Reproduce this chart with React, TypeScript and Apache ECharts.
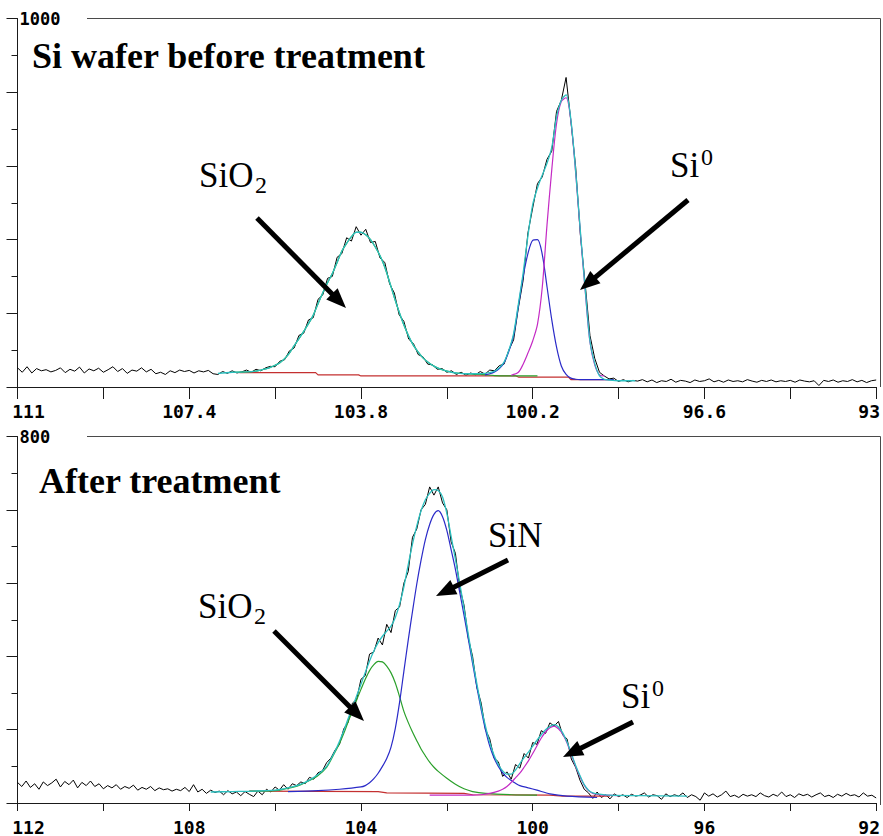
import React, { useEffect, useRef } from 'react';
import * as echarts from 'echarts';

// ---------- DATA ----------
// Top panel: raw spectrum, binding energy from 111.0 down to 93.0 eV, 0.1 eV step
const TOP_RAW_START = 111.0;
const TOP_RAW_STEP = 0.1;
const topRaw = [
  52, 40, 55, 38, 50, 44, 47, 41, 45, 52,
  39, 48, 43, 54, 38, 49, 44, 51, 40, 47,
  55, 42, 50, 37, 46, 43, 52, 41, 48, 36,
  40, 34, 44, 39, 46, 42, 45, 38, 44, 41,
  45, 36, 34, 42, 37, 44, 38, 41, 46, 40,
  48, 44, 52, 56, 55, 70, 74, 98, 106, 140,
  146, 182, 188, 238, 250, 295, 300, 352, 362, 405,
  396, 435, 412, 428, 392, 395, 350, 338, 280, 255,
  196, 178, 130, 118, 88, 82, 62, 60, 48, 50,
  40, 44, 34, 40, 32, 38, 33, 42, 35, 46,
  44, 58, 62, 100, 128, 215, 290, 418, 486, 552,
  570, 618, 640, 748, 778, 840, 722, 598, 412, 280,
  140, 78, 40, 30, 22, 24, 15, 20, 14, 18,
  16, 20, 14, 19, 12, 17, 15, 21, 13, 18,
  16, 12, 19, 15, 17, 22, 14, 18, 13, 19,
  15, 17, 14, 20, 16, 13, 18, 15, 19, 14,
  17, 15, 18, 13, 19, 16, 14, 17, 4, 18,
  15, 19, 13, 17, 15, 20, 14, 18, 12, 17,
  19,
];

// Top panel fitted curves [eV, counts]
const topBackground = [
  [106.35, 39], [104.75, 39], [104.7, 33], [103.85, 33], [103.8, 30], [100.55, 30],
  [100.5, 27], [99.45, 27], [99.4, 20], [98.5, 20],
];
const topSiO2 = [
  [106.5, 40], [106.2, 41], [106.0, 43], [105.9, 46], [105.8, 49], [105.7, 53], [105.6, 59],
  [105.5, 66], [105.4, 77], [105.3, 92], [105.2, 112], [105.1, 131], [105.0, 151], [104.9, 172],
  [104.8, 195], [104.7, 226], [104.6, 256], [104.5, 283], [104.4, 308], [104.3, 338], [104.2, 369],
  [104.1, 390], [104.0, 408], [103.9, 420], [103.8, 420], [103.7, 413], [103.6, 400], [103.5, 380],
  [103.4, 356], [103.3, 325], [103.2, 285], [103.1, 243], [103.0, 204], [102.9, 168], [102.8, 138],
  [102.7, 113], [102.6, 95], [102.5, 79], [102.4, 68], [102.3, 59], [102.2, 52], [102.1, 47],
  [102.0, 43], [101.9, 40], [101.8, 38], [101.6, 36], [101.3, 34], [101.0, 31], [100.8, 30], [100.1, 30],
];
const topSubOxide = [
  [101.2, 33], [101.1, 36], [101.0, 41], [100.9, 50], [100.8, 66], [100.7, 97], [100.6, 140],
  [100.5, 220], [100.4, 300], [100.3, 362], [100.2, 398], [100.1, 400], [100.0, 360], [99.9, 272],
  [99.8, 182], [99.7, 108], [99.6, 57], [99.5, 34], [99.4, 24], [99.3, 21], [99.2, 20], [98.5, 20],
];
const topSi0 = [
  [100.65, 32], [100.5, 40], [100.4, 62], [100.3, 92], [100.2, 125], [100.1, 170], [100.0, 270],
  [99.9, 440], [99.8, 590], [99.7, 715], [99.6, 775], [99.5, 785], [99.4, 722], [99.3, 582],
  [99.2, 417], [99.1, 262], [99.0, 122], [98.9, 60], [98.8, 33], [98.7, 30],
];
const topEnvelope = [
  [106.8, 37], [106.5, 40], [106.2, 41], [106.0, 43], [105.9, 46], [105.8, 49], [105.7, 53],
  [105.6, 59], [105.5, 66], [105.4, 77], [105.3, 92], [105.2, 112], [105.1, 131], [105.0, 151],
  [104.9, 172], [104.8, 195], [104.7, 226], [104.6, 256], [104.5, 283], [104.4, 308], [104.3, 338],
  [104.2, 369], [104.1, 390], [104.0, 408], [103.9, 420], [103.8, 420], [103.7, 413], [103.6, 400],
  [103.5, 380], [103.4, 356], [103.3, 325], [103.2, 285], [103.1, 243], [103.0, 204], [102.9, 168],
  [102.8, 138], [102.7, 113], [102.6, 95], [102.5, 79], [102.4, 68], [102.3, 59], [102.2, 52],
  [102.1, 47], [102.0, 43], [101.9, 40], [101.8, 38], [101.6, 36], [101.3, 36], [101.2, 37],
  [101.1, 39], [101.0, 43], [100.9, 52], [100.8, 68], [100.7, 100], [100.6, 145], [100.5, 225],
  [100.4, 310], [100.3, 410], [100.2, 495], [100.1, 540], [100.0, 575], [99.9, 607], [99.8, 650],
  [99.7, 733], [99.6, 778], [99.5, 793], [99.4, 726], [99.3, 587], [99.2, 422], [99.1, 267],
  [99.0, 125], [98.9, 64], [98.8, 30], [98.7, 21], [98.6, 19], [98.4, 17], [98.05, 17],
];

// Bottom panel: raw spectrum from 112.0 down to 92.0 eV, 0.1 eV step
const BOTTOM_RAW_START = 112.0;
const BOTTOM_RAW_STEP = 0.1;
const bottomRaw = [
  45, 36, 48, 34, 42, 30, 46, 38, 44, 52,
  35, 47, 40, 50, 33, 45, 38, 48, 36, 42,
  31, 38, 33, 40, 30, 36, 32, 39, 28, 34,
  30, 36, 27, 33, 29, 31, 26, 30, 27, 34,
  25, 40, 24, 30, 21, 28, 23, 26, 18, 27,
  20, 24, 16, 25, 19, 14, 26, 18, 30, 24,
  35, 28, 40, 30, 42, 38, 46, 42, 56, 52,
  66, 70, 88, 98, 116, 128, 162, 176, 218, 226,
  270, 278, 325, 330, 360, 345, 390, 372, 420, 428,
  480, 505, 580, 598, 640, 652, 690, 672, 690, 655,
  640, 570, 545, 470, 432, 360, 320, 252, 218, 160,
  140, 98, 90, 58, 68, 52, 84, 76, 108, 98,
  132, 128, 158, 152, 175, 168, 178, 148, 140, 96,
  78, 50, 30, 22, 10, 24, 12, 18, 9, 20,
  14, 18, 12, 19, 15, 17, 22, 13, 18, 16,
  8, 20, 14, 18, 15, 22, 12, 18, 14, 6,
  22, 15, 20, 13, 18, 26, 14, 17, 12, 19,
  15, 18, 14, 22, 16, 13, 19, 15, 24, 14,
  18, 12, 20, 16, 19, 13, 18, 22, 14, 17,
  12, 19, 15, 21, 16, 18, 13, 22, 15, 17,
  11,
];

const bottomBackground = [
  [106.6, 26], [105.0, 25.5], [103.6, 25], [103.4, 22], [101.6, 21], [101.4, 18],
  [99.6, 17], [99.3, 15], [98.2, 15],
];
const bottomSiO2 = [
  [106.6, 26], [106.0, 27], [105.8, 30], [105.6, 34], [105.4, 40], [105.2, 49], [105.0, 60],
  [104.8, 78], [104.7, 94], [104.6, 112], [104.5, 130], [104.4, 152], [104.3, 177], [104.2, 200],
  [104.1, 225], [104.0, 248], [103.9, 270], [103.8, 289], [103.7, 302], [103.6, 309], [103.5, 308],
  [103.4, 299], [103.3, 284], [103.2, 262], [103.1, 232], [103.0, 200], [102.9, 176], [102.8, 155],
  [102.7, 136], [102.6, 118], [102.5, 103], [102.4, 89], [102.3, 78], [102.2, 69], [102.0, 54],
  [101.8, 41], [101.6, 31], [101.4, 25], [101.1, 21], [100.5, 18], [99.9, 17],
];
const bottomSiN = [
  [105.7, 25], [105.0, 27], [104.5, 30], [104.0, 35], [103.9, 38], [103.8, 44], [103.7, 53],
  [103.6, 65], [103.5, 80], [103.4, 97], [103.3, 122], [103.2, 163], [103.1, 220], [103.0, 288],
  [102.9, 355], [102.8, 418], [102.7, 478], [102.6, 530], [102.5, 575], [102.4, 608], [102.3, 630],
  [102.2, 638], [102.1, 625], [102.0, 595], [101.9, 553], [101.8, 510], [101.7, 460], [101.6, 410],
  [101.5, 358], [101.4, 305], [101.3, 253], [101.2, 204], [101.1, 160], [101.0, 124], [100.9, 98],
  [100.8, 80], [100.7, 66], [100.6, 56], [100.5, 49], [100.4, 43], [100.3, 38], [100.1, 33],
  [99.9, 28], [99.6, 20], [99.2, 15], [98.5, 12],
];
const bottomSi0 = [
  [102.4, 17], [101.4, 17], [101.2, 18], [101.0, 21], [100.8, 26], [100.7, 30], [100.6, 36],
  [100.5, 45], [100.4, 55], [100.3, 65], [100.2, 78], [100.1, 92], [100.0, 108], [99.9, 125],
  [99.8, 142], [99.7, 155], [99.6, 164], [99.5, 168], [99.4, 162], [99.3, 150], [99.2, 131],
  [99.1, 106], [99.0, 80], [98.9, 58], [98.8, 39], [98.7, 27], [98.6, 21], [98.5, 19],
  [98.3, 17], [98.0, 16],
];
const bottomEnvelope = [
  [107.5, 24], [107.0, 25], [106.5, 26], [106.0, 28], [105.8, 31], [105.6, 35], [105.4, 41],
  [105.2, 50], [105.0, 62], [104.8, 80], [104.7, 96], [104.6, 114], [104.5, 135], [104.4, 158],
  [104.3, 184], [104.2, 208], [104.1, 234], [104.0, 259], [103.9, 285], [103.8, 310], [103.7, 332],
  [103.6, 350], [103.5, 364], [103.4, 375], [103.3, 386], [103.2, 405], [103.1, 434], [103.0, 472],
  [102.9, 520], [102.8, 565], [102.7, 605], [102.6, 638], [102.5, 662], [102.4, 676], [102.3, 684],
  [102.2, 682], [102.1, 668], [102.0, 632], [101.9, 582], [101.8, 532], [101.7, 480], [101.6, 425],
  [101.5, 368], [101.4, 312], [101.3, 260], [101.2, 210], [101.1, 168], [101.0, 132], [100.9, 104],
  [100.8, 84], [100.7, 70], [100.6, 63], [100.5, 63], [100.4, 72], [100.3, 86], [100.2, 99],
  [100.1, 111], [100.0, 124], [99.9, 137], [99.8, 149], [99.7, 160], [99.6, 167], [99.5, 171],
  [99.4, 166], [99.3, 153], [99.2, 133], [99.1, 108], [99.0, 82], [98.9, 60], [98.8, 40],
  [98.7, 28], [98.6, 22], [98.5, 20], [98.2, 17], [97.5, 16], [96.4, 15],
];

// Axis settings
const topXRange = [93, 111];
const topXInterval = 3.6;
const topYMax = 1000;
const topYInterval = 200;
const bottomXRange = [92, 112];
const bottomXInterval = 4;
const bottomYMax = 800;
const bottomYInterval = 160;

// ---------- STYLE ----------
const MONO = '"DejaVu Sans Mono", monospace';
const SERIF = '"Liberation Serif", "Times New Roman", serif';
const AXIS_COLOR = '#1a1a1a';
const BORDER_COLOR = '#4a4a4a';
const C_RED = '#c43030';
const C_GREEN = '#2aa02a';
const C_BLUE = '#2a2ac8';
const C_MAGENTA = '#c42ac4';
const C_CYAN = '#2cc0c0';

const labelText = { fontFamily: MONO, fontWeight: 'bold' as const, fontSize: 18, color: '#000' };

function rawPairs(values: number[], start: number, step: number) {
  return values.map((v, i) => [Math.round((start - i * step) * 10) / 10, v]);
}

function lineSeries(data: number[][], color: string, idx: number, width: number, smooth: number | boolean) {
  return {
    type: 'line',
    xAxisIndex: idx,
    yAxisIndex: idx,
    data,
    showSymbol: false,
    symbol: 'none',
    smooth,
    silent: true,
    lineStyle: { color, width },
    itemStyle: { color },
  };
}

function xAxisDef(idx: number, range: number[], interval: number, tickLen: number) {
  const lo = range[0];
  const hi = range[1];
  return {
    type: 'value',
    gridIndex: idx,
    min: lo,
    max: hi,
    interval,
    inverse: true,
    axisLine: { show: true, onZero: false, lineStyle: { color: AXIS_COLOR, width: 1 } },
    axisTick: { show: true, length: tickLen, lineStyle: { color: AXIS_COLOR, width: 1 } },
    minorTick: { show: true, splitNumber: 2, length: tickLen, lineStyle: { color: AXIS_COLOR, width: 1 } },
    splitLine: { show: false },
    minorSplitLine: { show: false },
    axisLabel: {
      ...labelText,
      margin: 15,
      formatter: (v: number) => {
        const r = Math.round(v * 10) / 10;
        if (Math.abs(r - hi) < 1e-6) return '{first|' + r + '}';
        if (Math.abs(r - lo) < 1e-6) return '{last|' + r + '}';
        return String(r);
      },
      rich: {
        first: { ...labelText, padding: [0, 0, 0, 22] },
        last: { ...labelText, padding: [0, 14, 0, 0] },
      },
    },
  };
}

function yAxisDef(idx: number, max: number, interval: number) {
  return {
    type: 'value',
    gridIndex: idx,
    min: 0,
    max,
    interval,
    axisLine: { show: true, lineStyle: { color: AXIS_COLOR, width: 1 } },
    axisTick: { show: true, length: 11, lineStyle: { color: AXIS_COLOR, width: 1 } },
    minorTick: { show: true, splitNumber: 2, length: 6, lineStyle: { color: AXIS_COLOR, width: 1 } },
    splitLine: { show: false },
    minorSplitLine: { show: false },
    axisLabel: {
      ...labelText,
      fontSize: 17,
      inside: true,
      margin: 2,
      formatter: (v: number) => (v === max ? String(max) : ''),
    },
  };
}

function arrow(x1: number, y1: number, x2: number, y2: number) {
  const dx = x2 - x1;
  const dy = y2 - y1;
  const L = Math.hypot(dx, dy);
  const ux = dx / L;
  const uy = dy / L;
  const hl = 20;
  const hw = 8;
  const bx = x2 - ux * hl;
  const by = y2 - uy * hl;
  return [
    { type: 'line', z: 100, shape: { x1, y1, x2: bx + ux * 3, y2: by + uy * 3 }, style: { stroke: '#000', lineWidth: 5 } },
    {
      type: 'polygon',
      z: 100,
      shape: { points: [[x2, y2], [bx - uy * hw, by + ux * hw], [bx + uy * hw, by - ux * hw]] },
      style: { fill: '#000' },
    },
  ];
}

function txt(text: string, x: number, y: number, font: string) {
  return {
    type: 'text',
    x,
    y,
    z: 100,
    style: {
      text,
      font,
      fill: '#000',
      align: 'left',
      verticalAlign: 'middle',
      textAlign: 'left',
      textVerticalAlign: 'middle',
    },
  };
}

function hline(x1: number, x2: number, y: number) {
  return { type: 'line', shape: { x1, y1: y, x2, y2: y }, style: { stroke: BORDER_COLOR, lineWidth: 1 } };
}
function vline(x: number, y1: number, y2: number) {
  return { type: 'line', shape: { x1: x, y1, x2: x, y2 }, style: { stroke: BORDER_COLOR, lineWidth: 1 } };
}

const BIG = '35px ' + SERIF;
const BIG_BOLD = 'bold 36px ' + SERIF;
const SMALL = '24px ' + SERIF;

export default function App() {
  const ref = useRef<HTMLDivElement>(null);

  useEffect(() => {
    if (!ref.current) return;
    const chart = echarts.init(ref.current, null, { renderer: 'svg' });

    const graphics: any[] = [
      hline(87, 880.5, 18.5),
      vline(880.5, 18.5, 387),
      hline(87, 880.5, 436.5),
      vline(880.5, 436.5, 805),
      txt('Si wafer before treatment', 32, 56, BIG_BOLD),
      txt('After treatment', 39, 481, BIG_BOLD),
      txt('SiO', 199, 175.5, BIG),
      txt('2', 255, 184.5, SMALL),
      txt('Si', 670, 165, BIG),
      txt('0', 701, 156.5, SMALL),
      txt('SiN', 488, 535.5, BIG),
      txt('SiO', 198, 606.5, BIG),
      txt('2', 254, 615.5, SMALL),
      txt('Si', 621, 696.5, BIG),
      txt('0', 652, 688, SMALL),
      ...arrow(257, 218, 346, 308),
      ...arrow(688, 200, 580, 290),
      ...arrow(508, 560, 436, 596),
      ...arrow(274, 631, 364, 721),
      ...arrow(633, 722, 563, 757),
    ];

    const option: any = {
      animation: false,
      backgroundColor: '#ffffff',
      grid: [
        { left: 17.5, top: 18.5, width: 863, height: 368.5 },
        { left: 17.5, top: 436.5, width: 863, height: 368.5 },
      ],
      xAxis: [
        xAxisDef(0, topXRange, topXInterval, 12),
        xAxisDef(1, bottomXRange, bottomXInterval, 8),
      ],
      yAxis: [yAxisDef(0, topYMax, topYInterval), yAxisDef(1, bottomYMax, bottomYInterval)],
      series: [
        lineSeries(rawPairs(topRaw, TOP_RAW_START, TOP_RAW_STEP), '#000', 0, 1, false),
        lineSeries(topBackground, C_RED, 0, 1.2, false),
        lineSeries(topSiO2, C_GREEN, 0, 1.2, 0.3),
        lineSeries(topSubOxide, C_BLUE, 0, 1.2, 0.3),
        lineSeries(topSi0, C_MAGENTA, 0, 1.2, 0.3),
        lineSeries(topEnvelope, C_CYAN, 0, 1.3, 0.3),
        lineSeries(rawPairs(bottomRaw, BOTTOM_RAW_START, BOTTOM_RAW_STEP), '#000', 1, 1, false),
        lineSeries(bottomBackground, C_RED, 1, 1.2, false),
        lineSeries(bottomSiO2, C_GREEN, 1, 1.2, 0.3),
        lineSeries(bottomSiN, C_BLUE, 1, 1.2, 0.3),
        lineSeries(bottomSi0, C_MAGENTA, 1, 1.2, 0.3),
        lineSeries(bottomEnvelope, C_CYAN, 1, 1.3, 0.3),
      ],
      graphic: { elements: graphics },
    };

    chart.setOption(option);
    return () => {
      chart.dispose();
    };
  }, []);

  return (
    <div
      ref={ref}
      style={{ position: 'absolute', left: 0, top: 0, width: 883, height: 836, background: '#fff' }}
    />
  );
}
